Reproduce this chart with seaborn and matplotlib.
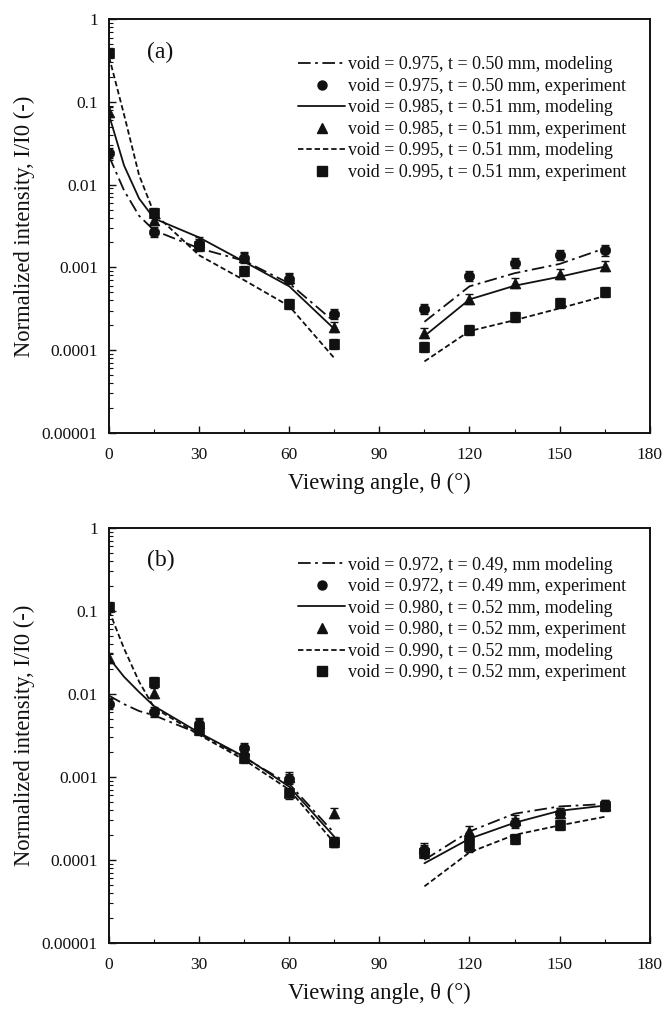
import numpy as np
import pandas as pd
import matplotlib
matplotlib.use("Agg")
import matplotlib.pyplot as plt
import seaborn as sns
from matplotlib.lines import Line2D
from matplotlib.ticker import FixedLocator, FixedFormatter, NullFormatter

# ---------------- data ----------------
theta_exp = [0, 15, 30, 45, 60, 75, 105, 120, 135, 150, 165]
theta_model_left = [0, 5, 10, 15, 30, 45, 60, 75]
theta_model_right = [105, 120, 135, 150, 165]

# panel (a)
a_labels = [
    "void = 0.975, t = 0.50 mm, modeling",
    "void = 0.975, t = 0.50 mm, experiment",
    "void = 0.985, t = 0.51 mm, modeling",
    "void = 0.985, t = 0.51 mm, experiment",
    "void = 0.995, t = 0.51 mm, modeling",
    "void = 0.995, t = 0.51 mm, experiment",
]
a_model_1_left = [0.022, 0.0085, 0.0042, 0.0028, 0.0017, 0.0012, 0.00064, 0.00022]
a_model_1_right = [0.00022, 0.00059, 0.00085, 0.0011, 0.0017]
a_exp_1 = [0.024, 0.0027, 0.0019, 0.0013, 0.00072, 0.00027, 0.00031, 0.00079, 0.00114, 0.0014, 0.0016]
a_model_2_left = [0.069, 0.017, 0.0068, 0.0039, 0.0023, 0.00117, 0.00059, 0.00018]
a_model_2_right = [0.000148, 0.00041, 0.0006, 0.00077, 0.00102]
a_exp_2 = [0.076, 0.0037, 0.0020, 0.00135, 0.00074, 0.00019, 0.000163, 0.00042, 0.00065, 0.00083, 0.00104]
a_model_3_left = [0.35, 0.07, 0.013, 0.0045, 0.0014, 0.0007, 0.00034, 0.00008]
a_model_3_right = [0.000073, 0.00017, 0.00023, 0.00032, 0.00045]
a_exp_3 = [0.39, 0.0045, 0.0018, 0.00091, 0.00036, 0.000118, 0.00011, 0.000173, 0.00025, 0.00037, 0.00051]

# panel (b)
b_labels = [
    "void = 0.972, t = 0.49, mm modeling",
    "void = 0.972, t = 0.49 mm, experiment",
    "void = 0.980, t = 0.52 mm, modeling",
    "void = 0.980, t = 0.52 mm, experiment",
    "void = 0.990, t = 0.52 mm, modeling",
    "void = 0.990, t = 0.52 mm, experiment",
]
b_model_1_left = [0.0095, 0.0075, 0.0062, 0.0055, 0.0033, 0.0017, 0.00082, 0.00021]
b_model_1_right = [0.0001, 0.00022, 0.00036, 0.00044, 0.00047]
b_exp_1 = [0.0075, 0.0061, 0.0043, 0.0022, 0.00095, 0.000166, 0.00013, 0.00018, 0.00028, 0.00037, 0.00046]
b_model_2_left = [0.027, 0.016, 0.0105, 0.0071, 0.0034, 0.00175, 0.00076, 0.00019]
b_model_2_right = [0.000091, 0.00018, 0.00028, 0.00039, 0.00045]
b_exp_2 = [0.027, 0.0102, 0.0045, 0.0021, 0.0010, 0.00037, 0.00014, 0.00022, 0.0003, 0.00037, 0.00046]
b_model_3_left = [0.1, 0.035, 0.014, 0.0068, 0.0032, 0.0016, 0.0007, 0.00016]
b_model_3_right = [0.000048, 0.000123, 0.0002, 0.00026, 0.00033]
b_exp_3 = [0.11, 0.0137, 0.0037, 0.00168, 0.00063, 0.000166, 0.00012, 0.000145, 0.00018, 0.00026, 0.00045]

err_frac = 0.15  # relative experimental uncertainty

y_ticks = [1e-5, 1e-4, 1e-3, 1e-2, 1e-1, 1]
y_tick_labels = ["0.00001", "0.0001", "0.001", "0.01", "0.1", "1"]
x_ticks = [0, 30, 60, 90, 120, 150, 180]

# ---------------- style ----------------
sns.set_theme(style="ticks")
plt.rcParams["font.family"] = ["Liberation Serif", "DejaVu Serif"]

FS = 12.5
LEG_FS = 13
LAB_FS = 16.3
LINE_STYLES = [(0, (7, 2.5, 1.5, 2.5)), "-", (0, (3, 1.6))]
MARKERS = ["o", "^", "s"]
INK = "#111111"


def model_frame(left, right):
    return pd.DataFrame({
        "theta": theta_model_left + theta_model_right,
        "value": left + right,
        "segment": ["left"] * len(left) + ["right"] * len(right),
    })


def draw_panel(ax, models, exps, labels, tag, leg_top):
    for (left, right), ls in zip(models, LINE_STYLES):
        df = model_frame(left, right)
        sns.lineplot(data=df, x="theta", y="value", units="segment", estimator=None,
                     color=INK, linewidth=1.3, linestyle=ls, ax=ax, legend=False)
    for vals, mk in zip(exps, MARKERS):
        v = np.array(vals)
        lo = v - v / (1 + err_frac)
        hi = v * (1 + err_frac) - v
        ax.errorbar(theta_exp, v, yerr=[lo, hi], fmt="none", ecolor=INK,
                    elinewidth=1.0, capsize=3, capthick=1.0, zorder=3)
        df = pd.DataFrame({"theta": theta_exp, "value": vals})
        sns.scatterplot(data=df, x="theta", y="value", marker=mk, color=INK,
                        s=55 if mk != "^" else 60, edgecolor=INK, linewidth=0.5,
                        ax=ax, zorder=4, legend=False)

    ax.set_yscale("log")
    ax.set_ylim(1e-5, 1)
    ax.set_xlim(0, 180)
    ax.yaxis.set_major_locator(FixedLocator(y_ticks))
    ax.yaxis.set_major_formatter(FixedFormatter(y_tick_labels))
    minor = [m * 10.0 ** e for e in range(-5, 0) for m in range(2, 10)]
    ax.yaxis.set_minor_locator(FixedLocator(minor))
    ax.yaxis.set_minor_formatter(NullFormatter())
    ax.xaxis.set_major_locator(FixedLocator(x_ticks))
    ax.xaxis.set_minor_locator(FixedLocator([15, 45, 75, 105, 135, 165]))
    ax.tick_params(which="major", direction="in", length=5, width=1.0,
                   labelsize=FS, colors=INK, pad=8)
    ax.tick_params(which="minor", direction="in", length=3, width=0.8, colors=INK)
    ax.tick_params(axis="x", which="major", pad=10)
    for sp in ax.spines.values():
        sp.set_visible(True)
        sp.set_linewidth(1.4)
        sp.set_color(INK)
    ax.set_xlabel("Viewing angle, θ (°)", fontsize=LAB_FS, color=INK, labelpad=7)
    ax.set_ylabel("Normalized intensity, I/I0 (-)", fontsize=LAB_FS, color=INK, labelpad=5)
    ax.text(0.07, 0.92, tag, transform=ax.transAxes, fontsize=17, color=INK,
            ha="left", va="center")

    handles = []
    for i in range(3):
        handles.append(Line2D([], [], color=INK, linewidth=1.3, linestyle=LINE_STYLES[i]))
        handles.append(Line2D([], [], color=INK, linestyle="none", marker=MARKERS[i],
                              markersize=6.5))
    leg = ax.legend(handles, labels, loc="upper left", bbox_to_anchor=(0.35, leg_top),
                    frameon=False, fontsize=LEG_FS, handlelength=2.6, handletextpad=0.15,
                    labelspacing=0.25, borderpad=0, borderaxespad=0)
    for t in leg.get_texts():
        t.set_color(INK)


fig = plt.figure(figsize=(6.65, 10.09), dpi=100)
ax_a = fig.add_axes([0.164, 0.571, 0.813, 0.410])
ax_b = fig.add_axes([0.164, 0.0655, 0.813, 0.4115])

draw_panel(ax_a,
           [(a_model_1_left, a_model_1_right), (a_model_2_left, a_model_2_right),
            (a_model_3_left, a_model_3_right)],
           [a_exp_1, a_exp_2, a_exp_3], a_labels, "(a)", 0.91)
draw_panel(ax_b,
           [(b_model_1_left, b_model_1_right), (b_model_2_left, b_model_2_right),
            (b_model_3_left, b_model_3_right)],
           [b_exp_1, b_exp_2, b_exp_3], b_labels, "(b)", 0.93)

fig.savefig("out.png", dpi=100, facecolor="white")
